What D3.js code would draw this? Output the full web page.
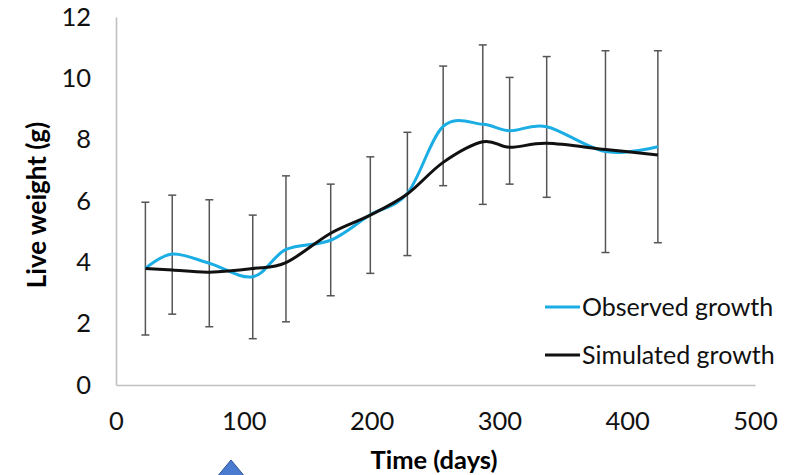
<!DOCTYPE html>
<html><head><meta charset="utf-8">
<script src="https://cdn.jsdelivr.net/npm/d3@7"></script>
<style>body{margin:0;background:#fff}svg{display:block}</style>
</head><body>
<script>
const days = [23, 44, 73, 107, 133, 168, 199, 228, 256, 287, 308, 337, 383, 424];
const observed = [3.80, 4.27, 3.97, 3.53, 4.42, 4.72, 5.55, 6.25, 8.43, 8.50, 8.29, 8.42, 7.61, 7.77];
const errUpper = [5.96, 6.19, 6.04, 5.54, 6.82, 6.55, 7.44, 8.24, 10.40, 11.09, 10.03, 10.71, 10.90, 10.90];
const errLower = [1.63, 2.31, 1.90, 1.51, 2.06, 2.91, 3.64, 4.22, 6.50, 5.89, 6.55, 6.12, 4.32, 4.64];
const simulated = [3.80, 3.75, 3.68, 3.80, 3.99, 4.95, 5.54, 6.23, 7.26, 7.93, 7.75, 7.88, 7.68, 7.50];
const xTicks = [0, 100, 200, 300, 400, 500];
const yTicks = [0, 2, 4, 6, 8, 10, 12];
const seriesNames = ["Observed growth", "Simulated growth"];
const xTitle = "Time (days)";
const yTitle = "Live weight (g)";

const W = 791, H = 475;
const FONT = "Lato, 'Open Sans', sans-serif";
const svg = d3.select("body").append("svg").attr("width", W).attr("height", H);

const x = d3.scaleLinear().domain([0, 500]).range([116, 755]);
const y = d3.scaleLinear().domain([0, 12]).range([385, 17]);

// axes
const xAxis = svg.append("g").attr("transform", `translate(0,${y(0)})`)
  .call(d3.axisBottom(x).tickValues(xTicks).tickSize(0).tickPadding(27));
const yAxis = svg.append("g").attr("transform", `translate(${x(0)},0)`)
  .call(d3.axisLeft(y).tickValues(yTicks).tickSize(0).tickPadding(25));
[xAxis, yAxis].forEach(g => {
  g.select(".domain").attr("stroke", "#c0c0c0").attr("stroke-width", 1.6);
  g.selectAll("text").attr("font-family", FONT).attr("font-size", 25.5).attr("fill", "#111");
});
xAxis.selectAll("text").attr("dy", "0.71em");

// error bars
const eb = svg.append("g").attr("stroke", "#555").attr("stroke-width", 1.5);
days.forEach((d, i) => {
  const cx = x(d);
  eb.append("line").attr("x1", cx).attr("x2", cx).attr("y1", y(errUpper[i])).attr("y2", y(errLower[i]));
  eb.append("line").attr("x1", cx - 4).attr("x2", cx + 4).attr("y1", y(errUpper[i])).attr("y2", y(errUpper[i]));
  eb.append("line").attr("x1", cx - 4).attr("x2", cx + 4).attr("y1", y(errLower[i])).attr("y2", y(errLower[i]));
});

const line = d3.line().curve(d3.curveCardinal.tension(0)).x(d => x(d[0])).y(d => y(d[1]));
svg.append("path").datum(days.map((d, i) => [d, observed[i]]))
  .attr("d", line).attr("fill", "none").attr("stroke", "#1aaee5").attr("stroke-width", 3);
svg.append("path").datum(days.map((d, i) => [d, simulated[i]]))
  .attr("d", line).attr("fill", "none").attr("stroke", "#111").attr("stroke-width", 3);

// legend
const colors = ["#1aaee5", "#111"];
seriesNames.forEach((n, i) => {
  const ly = 307 + i * 48;
  svg.append("line").attr("x1", 545).attr("x2", 580).attr("y1", ly).attr("y2", ly)
    .attr("stroke", colors[i]).attr("stroke-width", 3);
  svg.append("text").attr("x", 582).attr("y", ly).attr("dy", "0.35em")
    .attr("font-family", FONT).attr("font-size", 25).attr("fill", "#111").text(n);
});

// axis titles
svg.append("text").attr("x", 434).attr("y", 460).attr("dy", "0.35em").attr("text-anchor", "middle")
  .attr("font-family", FONT).attr("font-weight", "bold").attr("font-size", 25.5).attr("fill", "#000").text(xTitle);
svg.append("text").attr("transform", "translate(37,205) rotate(-90)").attr("dy", "0.35em").attr("text-anchor", "middle")
  .attr("font-family", FONT).attr("font-weight", "bold").attr("font-size", 26).attr("fill", "#000").text(yTitle);

// decorative triangle at bottom
svg.append("path").attr("d", d3.line()([[231, 460], [216, 478], [246, 478]]) + "Z")
  .attr("fill", "#4a7bd0").attr("stroke", "#2f5597").attr("stroke-width", 1);
</script>
</body></html>
